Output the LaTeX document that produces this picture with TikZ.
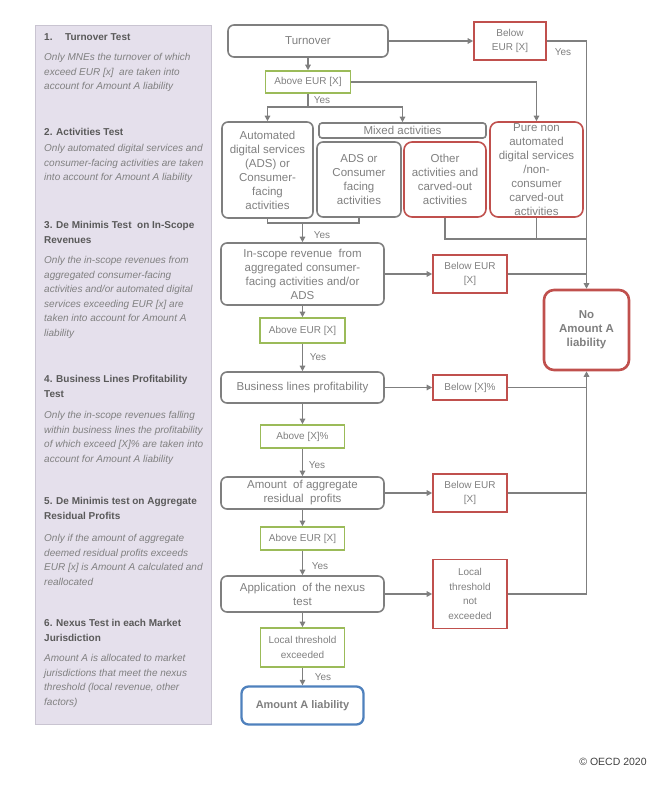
\documentclass[tikz,border=0pt]{standalone}
\usepackage{fontspec}
\setmainfont{Liberation Sans}
\usetikzlibrary{arrows.meta}
\definecolor{lgray}{HTML}{7F7F7F}
\definecolor{ored}{HTML}{C0504D}
\definecolor{ogreen}{HTML}{9BBB59}
\definecolor{oblue}{HTML}{4F81BD}
\definecolor{panelfill}{HTML}{E5E0EC}
\definecolor{panelline}{HTML}{C9C4D1}
\definecolor{hdtext}{HTML}{595959}
\definecolor{bodytext}{HTML}{808080}
\definecolor{copytext}{HTML}{404040}
\begin{document}
\begin{tikzpicture}[x=1pt,y=-1pt,
  sz/.style 2 args={minimum width=#1pt, minimum height=#2pt},
  box/.style={draw=lgray, line width=1.6pt, rounded corners=6pt, inner sep=0pt, align=center, text=lgray, font=\fontsize{11.5}{14}\selectfont},
  gbox/.style={draw=ogreen, line width=1.6pt, inner sep=0pt, align=center, text=lgray, font=\fontsize{10}{14.5}\selectfont},
  rbox/.style={draw=ored, line width=1.6pt, inner sep=0pt, align=center, text=lgray, font=\fontsize{10}{14.5}\selectfont},
  rrbox/.style={draw=ored, line width=1.6pt, rounded corners=8pt, inner sep=0pt, align=center, text=lgray, font=\fontsize{11.5}{14}\selectfont},
  nobox/.style={draw=ored, line width=2.6pt, rounded corners=10pt, inner sep=0pt, align=center, text=lgray, font=\fontsize{11.5}{14}\selectfont\bfseries},
  bluebox/.style={draw=oblue, line width=2.3pt, rounded corners=7pt, inner sep=0pt, align=center, text=lgray, font=\fontsize{11}{14}\selectfont\bfseries},
  ln/.style={draw=lgray, line width=1.3pt},
  arr/.style={ln, -{Triangle[length=5.5pt,width=5.5pt]}},
  yes/.style={text=lgray, font=\fontsize{10}{12}\selectfont, inner sep=0pt},
  hd/.style={anchor=north west, inner sep=0pt, align=left, text=hdtext, font=\fontsize{10}{14.5}\selectfont\bfseries},
  bd/.style={anchor=north west, inner sep=0pt, align=left, text=bodytext, font=\fontsize{10}{14.5}\selectfont\itshape},
]
\useasboundingbox (0,0) rectangle (668,791);

% left panel
\draw[fill=panelfill, draw=panelline, line width=0.8pt] (35,25) rectangle (211,724);
\node[hd] (h1) at (44,30.35) {\strut\makebox[21pt][l]{1.}Turnover Test};
\node[bd] (t1) at (44,50.35) {\strut Only MNEs the turnover of which\\exceed EUR {[x]}\ \ are taken into\\account for Amount A liability};
\node[hd] (h2) at (44,125.35) {\strut 2. Activities Test};
\node[bd] (t2) at (44,141.35) {\strut Only automated digital services and\\consumer-facing activities are taken\\into account for Amount A liability};
\node[hd] (h3) at (44,218.35) {\strut 3. De Minimis Test\ \ on In-Scope\\Revenues};
\node[bd] (t3) at (44,253.35) {\strut Only the in-scope revenues from\\aggregated consumer-facing\\activities and/or automated digital\\services exceeding EUR {[x]} are\\taken into account for Amount A\\liability};
\node[hd] (h4) at (44,372.35) {\strut 4. Business Lines Profitability\\Test};
\node[bd] (t4) at (44,408.35) {\strut Only the in-scope revenues falling\\within business lines the profitability\\of which exceed {[X]}\% are taken into\\account for Amount A liability};
\node[hd] (h5) at (44,494.35) {\strut 5. De Minimis test on Aggregate\\Residual Profits};
\node[bd] (t5) at (44,531.35) {\strut Only if the amount of aggregate\\deemed residual profits exceeds\\EUR {[x]} is Amount A calculated and\\reallocated};
\node[hd] (h6) at (44,616.35) {\strut 6. Nexus Test in each Market\\Jurisdiction};
\node[bd] (t6) at (44,651.35) {\strut Amount A is allocated to market\\jurisdictions that meet the nexus\\threshold (local revenue, other\\factors)};

% flowchart nodes
\node[box, sz={160}{32}] (turn) at (308,41) {Turnover};
\node[gbox, sz={85}{22}] (ab1) at (308,82) {Above EUR {[X]}};
\node[rbox, sz={72}{38}] (bel1) at (510,41) {Below\\EUR {[X]}};
\node[nobox, sz={85}{80}] (nol) at (586.5,330) {No\\Amount A\\liability};
\node[box, sz={91}{96}] (ads) at (267.5,170) {Automated\\digital services\\(ADS) or\\Consumer-\\facing\\activities};
\node[box, sz={167}{15}, rounded corners=3pt] (mixed) at (402.5,130.5) {Mixed activities};
\node[box, sz={84}{75}] (adsc) at (359,179.5) {ADS or\\Consumer\\facing\\activities};
\node[rrbox, sz={82}{75}] (other) at (445,179.5) {Other\\activities and\\carved-out\\activities};
\node[rrbox, sz={93}{95}] (pure) at (536.5,169.5) {Pure non\\automated\\digital services\\/non-\\consumer\\carved-out\\activities};
\node[box, sz={163}{62}] (insc) at (302.5,274) {In-scope revenue\ \ from\\aggregated consumer-\\facing activities and/or\\ADS};
\node[rbox, sz={74}{38}] (bel2) at (470,274) {Below EUR\\{[X]}};
\node[gbox, sz={85}{25}] (ab2) at (302.5,330.5) {Above EUR {[X]}};
\node[box, sz={163}{31}] (bus) at (302.5,387.5) {Business lines profitability};
\node[rbox, sz={74}{25}] (bel3) at (470,387.5) {Below {[X]}\%};
\node[gbox, sz={84}{23}] (ab3) at (302.5,436.5) {Above {[X]}\%};
\node[box, sz={163}{32}] (amt) at (302.5,493) {Amount\ \ of aggregate\\residual\ \ profits};
\node[rbox, sz={74}{38}] (bel4) at (470,493) {Below EUR\\{[X]}};
\node[gbox, sz={84}{23}] (ab4) at (302.5,538.5) {Above EUR {[X]}};
\node[box, sz={163}{36}] (nex) at (302.5,594) {Application\ \ of the nexus\\test};
\node[rbox, sz={74}{69}] (loc) at (470,594) {Local\\threshold\\not\\exceeded};
\node[gbox, sz={84}{39}] (ab5) at (302.5,647.5) {Local threshold\\exceeded};
\node[bluebox, sz={122}{38}] (aal) at (302.5,705.5) {Amount A liability};

% connectors
\draw[arr] (turn.east) -- (bel1.west);
\draw[arr] (bel1.east) -| (nol.north);
\node[yes] (y0) at (563,52) {Yes};
\draw[arr] (turn.south) -- (ab1.north);
\draw[arr] (ab1.east) -| (pure.north);
\coordinate (j1) at (308,107);
\draw[ln] (ab1.south) -- (j1);
\draw[arr] (j1) -| (ads.north);
\draw[arr] (j1) -| (mixed.north);
\node[yes] (y1) at (322,100) {Yes};
\coordinate (j2) at (302.5,223);
\draw[ln] (ads.south) |- (j2) -| (adsc.south);
\draw[arr] (j2) -- (insc.north);
\node[yes] (y2) at (322,235) {Yes};
\coordinate (j3) at (586.5,239);
\draw[ln] (other.south) |- (j3);
\draw[ln] (pure.south) -- (pure.south |- j3);
\draw[arr] (insc.east) -- (bel2.west);
\draw[ln] (bel2.east) -- (bel2.east -| nol.north);
\draw[arr] (insc.south) -- (ab2.north);
\draw[arr] (ab2.south) -- (bus.north);
\node[yes] (y3) at (318,357) {Yes};
\draw[arr] (bus.east) -- (bel3.west);
\draw[ln] (bel3.east) -- (bel3.east -| nol.south);
\draw[arr] (bus.south) -- (ab3.north);
\draw[arr] (ab3.south) -- (amt.north);
\node[yes] (y4) at (317,465) {Yes};
\draw[arr] (amt.east) -- (bel4.west);
\draw[ln] (bel4.east) -- (bel4.east -| nol.south);
\draw[arr] (amt.south) -- (ab4.north);
\draw[arr] (ab4.south) -- (nex.north);
\node[yes] (y5) at (320,566) {Yes};
\draw[arr] (nex.east) -- (loc.west);
\draw[arr] (loc.east) -| (nol.south);
\draw[arr] (nex.south) -- (ab5.north);
\draw[arr] (ab5.south) -- (aal.north);
\node[yes] (y6) at (323,677) {Yes};

\node[text=copytext, font=\fontsize{10.5}{12}\selectfont, inner sep=0pt] (copy) at (613,762) {© OECD 2020};
\end{tikzpicture}
\end{document}
